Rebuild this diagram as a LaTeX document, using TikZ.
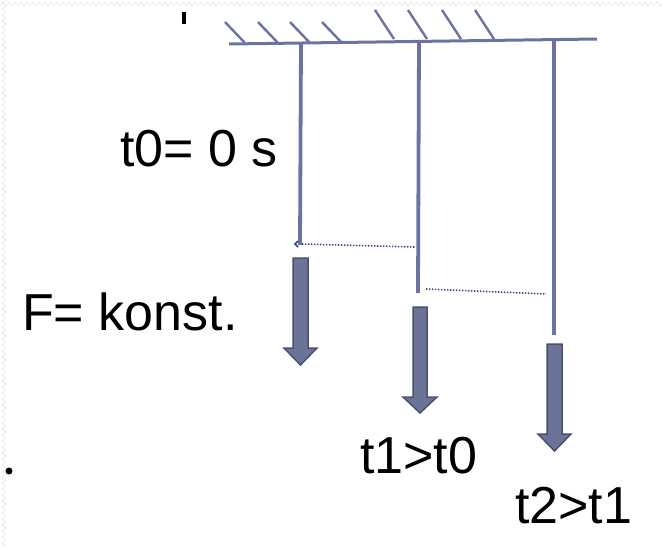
\documentclass[tikz,border=0pt]{standalone}
\usepackage{fontspec}
\setmainfont{Liberation Sans}
\definecolor{rodc}{HTML}{6B74A0}
\definecolor{arrf}{HTML}{6B7399}
\definecolor{arrd}{HTML}{4A5070}
\definecolor{dotc}{HTML}{3A4580}
\begin{document}
\begin{tikzpicture}[x=1pt,y=-1pt,
  rod/.style={draw=rodc,line width=3.8pt},
  hatch/.style={draw=rodc,line width=2.4pt},
  dotline/.style={draw=dotc,line width=1.6pt,dash pattern=on 1.4pt off 1.6pt},
  bigarrow/.style={fill=arrf,draw=arrd,line width=1.5pt,line join=miter},
  lbl/.style={font=\fontsize{52}{52}\selectfont,inner sep=0pt,anchor=base west,text=black}]
\useasboundingbox (0,0) rectangle (662,549);
% faint zigzag border top and left
\draw[black!8,line width=0.8pt] (0,6) \foreach \i in {0,...,110}{ -- ({\i*6+3},2) -- ({\i*6+6},6)};
\draw[black!8,line width=0.8pt] (6,0) \foreach \i in {0,...,90}{ -- (2,{\i*6+3}) -- (6,{\i*6+6})};
% cursor mark
\fill[black] (182,12) rectangle (186,24);
% ceiling
\coordinate (cL) at (229,44);
\coordinate (cR) at (597,39);
\draw[rod,line width=3pt] (cL) -- (cR);
\foreach \x/\y in {225/22,258/22,290/22,322/22}{\draw[hatch] (\x,\y) -- (\x+20,\y+21);}
\foreach \x/\y in {375/10,408/10,442/10,475/10}{\draw[hatch] (\x,\y) -- (\x+19,\y+29);}
% rods
\coordinate (r1t) at (301,44); \coordinate (r1b) at (300,245);
\coordinate (r2t) at (419,42); \coordinate (r2b) at (418,293);
\coordinate (r3t) at (554,40); \coordinate (r3b) at (554,335);
\draw[rod] (r1t) -- (r1b);
\draw[rod] (r2t) -- (r2b);
\draw[rod] (r3t) -- (r3b);
\draw[draw=dotc,line width=1.5pt] (298,241) -- (295,244) -- (298,247);
% dotted extension lines
\coordinate (d1a) at (302,244); \coordinate (d1b) at (415,247);
\coordinate (d2a) at (426,289); \coordinate (d2b) at (546,294);
\draw[dotline] (d1a) -- (d1b);
\draw[dotline] (d2a) -- (d2b);
% force arrows
\draw[bigarrow] (293,258) -- (308,258) -- (308,348) -- (317,348) -- (300.5,365) -- (284,348) -- (293,348) -- cycle;
\draw[bigarrow] (413,307) -- (427,307) -- (427,397) -- (437,397) -- (420,413) -- (403,397) -- (413,397) -- cycle;
\draw[bigarrow] (547,344) -- (562,344) -- (562,434) -- (571,434) -- (554.5,451) -- (538,434) -- (547,434) -- cycle;
% labels
\node[lbl] (t0) at (120,166) {t0= 0 s};
\node[lbl] (F) at (22,330) {F= konst.};
\node[lbl] (t1) at (360,473) {t1>t0};
\node[lbl] (t2) at (515,523) {t2>t1};
\fill[black] (9,471) circle (3.5);
\end{tikzpicture}
\end{document}
